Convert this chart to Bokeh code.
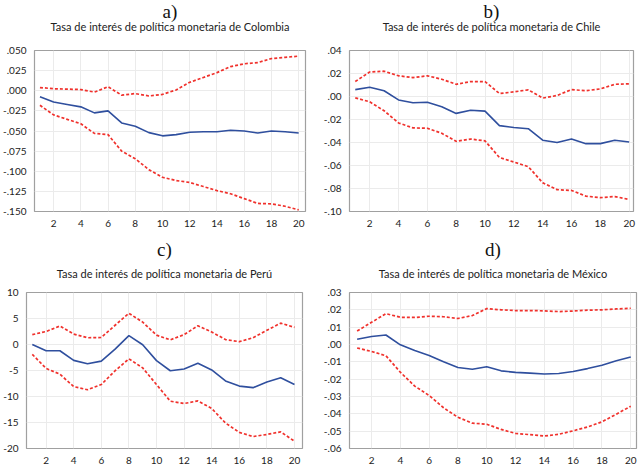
from bokeh.plotting import figure
from bokeh.models import Title, FixedTicker
from bokeh.layouts import column, row
from bokeh.embed import file_html
from bokeh.resources import INLINE

periods = list(range(1, 21))
x_ticks = [2, 4, 6, 8, 10, 12, 14, 16, 18, 20]

# a) Colombia
col_mid = [-0.0075, -0.014, -0.017, -0.020, -0.0275, -0.025, -0.040, -0.044, -0.052, -0.056,
           -0.0545, -0.0515, -0.051, -0.051, -0.049, -0.050, -0.0525, -0.050, -0.051, -0.0525]
col_up = [0.004, 0.0025, 0.002, 0.0015, -0.0017, 0.005, -0.0055, -0.0035, -0.0065, -0.0045,
          0.001, 0.0105, 0.0165, 0.0225, 0.030, 0.0335, 0.035, 0.040, 0.0415, 0.043]
col_lo = [-0.018, -0.030, -0.0355, -0.041, -0.053, -0.0545, -0.075, -0.0845, -0.098, -0.1075,
          -0.1115, -0.114, -0.119, -0.124, -0.128, -0.134, -0.140, -0.1405, -0.1435, -0.148]
col_yticks = [0.05, 0.025, 0.0, -0.025, -0.05, -0.075, -0.1, -0.125, -0.15]
col_ylabels = [".050", ".025", ".000", "-.025", "-.050", "-.075", "-.100", "-.125", "-.150"]

# b) Chile
chl_mid = [0.006, 0.008, 0.005, -0.003, -0.0055, -0.005, -0.009, -0.0147, -0.012, -0.0127,
           -0.0253, -0.027, -0.028, -0.038, -0.040, -0.037, -0.041, -0.041, -0.038, -0.0395]
chl_up = [0.013, 0.0213, 0.022, 0.018, 0.0164, 0.018, 0.015, 0.0106, 0.013, 0.013,
          0.0026, 0.004, 0.0058, -0.0014, 0.0009, 0.006, 0.005, 0.0066, 0.0106, 0.011]
chl_lo = [-0.0012, -0.0046, -0.0124, -0.023, -0.0273, -0.0276, -0.032, -0.039, -0.037, -0.0386,
          -0.053, -0.057, -0.061, -0.075, -0.081, -0.0817, -0.0866, -0.088, -0.087, -0.0895]
chl_yticks = [0.04, 0.02, 0.0, -0.02, -0.04, -0.06, -0.08, -0.1]
chl_ylabels = [".04", ".02", ".00", "-.02", "-.04", "-.06", "-.08", "-.10"]

# c) Peru
per_mid = [0, -1.2, -1.2, -3.05, -3.7, -3.2, -0.9, 1.7, -0.05, -3.1,
           -5.05, -4.7, -3.6, -4.9, -7.0, -8.0, -8.3, -7.2, -6.4, -7.7]
per_up = [1.9, 2.5, 3.55, 2.0, 1.3, 1.35, 3.7, 6.0, 4.3, 1.8,
          0.9, 1.9, 3.6, 2.4, 0.95, 0.55, 1.3, 2.75, 4.1, 3.3]
per_lo = [-1.9, -4.6, -5.7, -8.1, -8.7, -7.7, -5.05, -2.75, -4.5, -7.7,
          -10.9, -11.35, -10.85, -12.3, -15.1, -16.9, -17.7, -17.3, -16.8, -18.6]
per_yticks = [10, 5, 0, -5, -10, -15, -20]
per_ylabels = ["10", "5", "0", "-5", "-10", "-15", "-20"]

# d) Mexico
mex_mid = [0.003, 0.0046, 0.0055, -0.0002, -0.0035, -0.0063, -0.010, -0.0133, -0.0143, -0.0128,
           -0.0152, -0.0161, -0.0165, -0.017, -0.0167, -0.0156, -0.0139, -0.012, -0.0094, -0.0072]
mex_up = [0.0078, 0.0128, 0.0178, 0.0157, 0.0156, 0.0163, 0.016, 0.015, 0.0167, 0.0207,
          0.020, 0.0196, 0.0196, 0.0194, 0.019, 0.0193, 0.0198, 0.020, 0.0205, 0.0209]
mex_lo = [-0.002, -0.004, -0.0065, -0.016, -0.024, -0.0294, -0.0365, -0.042, -0.0454, -0.046,
          -0.049, -0.0513, -0.052, -0.0528, -0.0518, -0.0498, -0.0476, -0.0446, -0.0402, -0.0356]
mex_yticks = [0.03, 0.02, 0.01, 0.0, -0.01, -0.02, -0.03, -0.04, -0.05, -0.06]
mex_ylabels = [".03", ".02", ".01", ".00", "-.01", "-.02", "-.03", "-.04", "-.05", "-.06"]

BLUE = "#2f4f9e"
RED = "#f0312c"
TICK_FONT = "Lato"


def panel(letter, subtitle, mid, up, lo, yticks, ylabels, yr, xr, w, h, bl, br, bt, bb,
          loff, lstand, sstand):
    p = figure(width=w, height=h, x_range=xr, y_range=yr,
               output_backend="svg", toolbar_location=None,
               min_border_left=bl, min_border_right=br,
               min_border_top=bt, min_border_bottom=bb)
    # outermost title: the panel letter
    p.title.text = letter
    p.title.align = "center"
    p.title.text_font = "Liberation Serif"
    p.title.text_font_size = "19px"
    p.title.text_font_style = "normal"
    p.title.text_color = "#111111"
    p.title.offset = loff
    p.title.standoff = lstand
    # inner title: the description
    p.add_layout(Title(text=subtitle, align="center", text_font="Lato",
                       text_font_size="11px", text_font_style="normal",
                       text_color="#222222", standoff=sstand), "above")
    p.background_fill_color = "white"
    p.border_fill_color = "white"
    p.outline_line_color = "#a0a0a0"
    p.outline_line_width = 1.2

    p.xaxis.ticker = FixedTicker(ticks=x_ticks)
    p.yaxis.ticker = FixedTicker(ticks=yticks)
    p.yaxis.major_label_overrides = dict(zip(yticks, ylabels))
    for ax in (p.xaxis, p.yaxis):
        ax.axis_line_color = None
        ax.major_tick_line_color = None
        ax.minor_tick_line_color = None
        ax.major_label_text_font = TICK_FONT
        ax.major_label_text_font_size = "10px"
        ax.major_label_text_color = "#222222"
        ax.major_label_standoff = 2
    p.xgrid.ticker = FixedTicker(ticks=x_ticks)
    p.ygrid.ticker = FixedTicker(ticks=yticks)
    p.grid.grid_line_color = "#ebebeb"
    p.grid.grid_line_width = 1

    p.line(periods, up, line_color=RED, line_width=1.7, line_dash="3 2")
    p.line(periods, lo, line_color=RED, line_width=1.7, line_dash="3 2")
    p.line(periods, mid, line_color=BLUE, line_width=1.6)
    return p


pa = panel("a)", "Tasa de interés de política monetaria de Colombia", col_mid, col_up, col_lo,
           col_yticks, col_ylabels, (-0.15, 0.05), (0.6, 20.5), 320, 240, 28, 15, 48, 29,
           -11, -43, 35)
pb = panel("b)", "Tasa de interés de política monetaria de Chile", chl_mid, chl_up, chl_lo,
           chl_yticks, chl_ylabels, (-0.10, 0.04), (0.6, 20.3), 320, 240, 17, 7, 48, 29,
           4, -43, 35)
pc = panel("c)", "Tasa de interés de política monetaria de Perú", per_mid, per_up, per_lo,
           per_yticks, per_ylabels, (-20, 10), (0.58, 20.58), 320, 226, 18, 18, 52, 13,
           -4, -17, 26)
pd_ = panel("d)", "Tasa de interés de política monetaria de México", mex_mid, mex_up, mex_lo,
            mex_yticks, mex_ylabels, (-0.06, 0.03), (0.47, 20.4), 320, 226, 17, 4, 52, 13,
            3, -17, 26)

layout = column(row(pa, pb), row(pc, pd_))

open("out.html", "w").write(file_html(layout, INLINE))
